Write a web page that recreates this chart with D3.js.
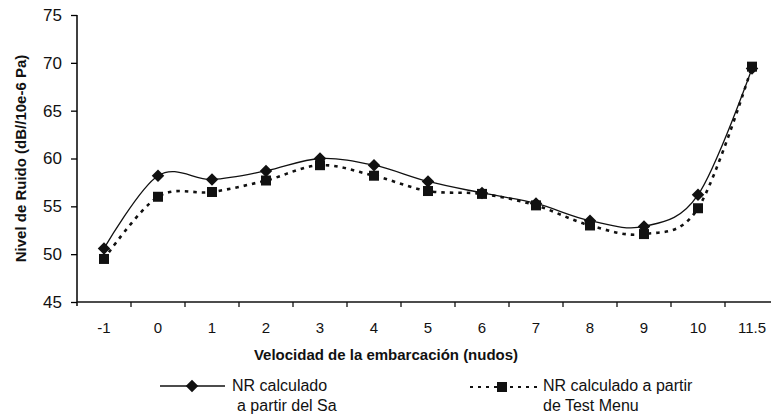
<!DOCTYPE html>
<html>
<head>
<meta charset="utf-8">
<script src="https://cdn.jsdelivr.net/npm/d3@7"></script>
<style>
  body { margin: 0; background: #fff; }
  svg { display: block; font-family: "Liberation Sans", Arial, sans-serif; }
</style>
</head>
<body>
<div id="chart"></div>
<script>
// Speed categories (knots) and the two noise-level series
const speeds = ["-1", "0", "1", "2", "3", "4", "5", "6", "7", "8", "9", "10", "11.5"];
const nrSa = [50.6, 58.2, 57.8, 58.7, 60.0, 59.3, 57.6, 56.4, 55.3, 53.5, 52.9, 56.2, 69.4];
const nrTestMenu = [49.5, 56.0, 56.5, 57.7, 59.3, 58.2, 56.6, 56.3, 55.1, 53.0, 52.1, 54.8, 69.6];
const yTicks = [45, 50, 55, 60, 65, 70, 75];

const width = 771, height = 415;
const margin = { left: 77, top: 15, bottom: 113 };

const svg = d3.select('#chart').append('svg')
  .attr('width', width)
  .attr('height', height);

const x = d3.scaleBand()
  .domain(speeds)
  .range([margin.left, margin.left + 54 * speeds.length]);

const y = d3.scaleLinear()
  .domain([45, 75])
  .range([height - margin.bottom, margin.top]);

const y0 = y(45);

// Y axis
const yAxis = svg.append('g')
  .attr('transform', `translate(${margin.left},0)`)
  .call(d3.axisLeft(y).tickValues(yTicks).tickSize(6).tickPadding(9));
yAxis.select('.domain').attr('stroke-width', 1.5).attr('d', `M0,${y(75)}V${y0 + 4}`);
yAxis.selectAll('line').attr('stroke-width', 1.3);
yAxis.selectAll('text').style('font-size', '17px').attr('fill', '#111');

// X axis: ticks between categories
const xAxis = svg.append('g')
  .attr('transform', `translate(0,${y0})`);
xAxis.append('line')
  .attr('x1', margin.left).attr('x2', width)
  .attr('stroke', '#111').attr('stroke-width', 1.5);
xAxis.selectAll('.tick')
  .data(speeds.slice(1))
  .enter()
  .append('line')
  .attr('x1', d => x(d)).attr('x2', d => x(d))
  .attr('y1', 0).attr('y2', 5)
  .attr('stroke', '#111').attr('stroke-width', 1.3);
xAxis.selectAll('.lbl')
  .data(speeds)
  .enter()
  .append('text')
  .attr('x', d => x(d) + x.bandwidth() / 2)
  .attr('y', 31)
  .attr('text-anchor', 'middle')
  .style('font-size', '15px')
  .attr('fill', '#111')
  .text(d => d);

// Axis titles
svg.append('text')
  .attr('x', 386).attr('y', 360)
  .attr('text-anchor', 'middle')
  .style('font-size', '15px').style('font-weight', 'bold')
  .attr('fill', '#111')
  .text('Velocidad de la embarcación (nudos)');

svg.append('text')
  .attr('transform', `translate(26,${(y(45) + y(75)) / 2}) rotate(-90)`)
  .attr('text-anchor', 'middle')
  .style('font-size', '15px').style('font-weight', 'bold')
  .attr('fill', '#111')
  .text('Nivel de Ruido (dB//10e-6 Pa)');

// Lines
const cx = (d, i) => x(speeds[i]) + x.bandwidth() / 2;
const line = d3.line()
  .x(cx)
  .y(d => y(d))
  .curve(d3.curveCardinal.tension(0));

svg.append('path')
  .datum(nrTestMenu)
  .attr('d', line)
  .attr('fill', 'none')
  .attr('stroke', '#111')
  .attr('stroke-width', 2.6)
  .attr('stroke-dasharray', '3.5,5');

svg.append('path')
  .datum(nrSa)
  .attr('d', line)
  .attr('fill', 'none')
  .attr('stroke', '#111')
  .attr('stroke-width', 1.3);

// Markers
const diamond = d3.symbol().type(d3.symbolDiamond2).size(100);
svg.selectAll('.dia')
  .data(nrSa)
  .enter()
  .append('path')
  .attr('d', diamond)
  .attr('transform', (d, i) => `translate(${cx(d, i)},${y(d)})`)
  .attr('fill', '#111');

const sq = 10;
svg.selectAll('.sq')
  .data(nrTestMenu)
  .enter()
  .append('rect')
  .attr('x', (d, i) => cx(d, i) - sq / 2)
  .attr('y', d => y(d) - sq / 2)
  .attr('width', sq).attr('height', sq)
  .attr('fill', '#111');

// Legend
const leg = svg.append('g');
leg.append('line')
  .attr('x1', 160).attr('x2', 225).attr('y1', 386).attr('y2', 386)
  .attr('stroke', '#111').attr('stroke-width', 1.3);
leg.append('path')
  .attr('d', diamond)
  .attr('transform', 'translate(192,386)')
  .attr('fill', '#111');
leg.append('text').attr('x', 232).attr('y', 391)
  .style('font-size', '16px').attr('fill', '#111').text('NR calculado');
leg.append('text').attr('x', 237).attr('y', 411)
  .style('font-size', '16px').attr('fill', '#111').text('a partir del Sa');

leg.append('line')
  .attr('x1', 470).attr('x2', 538).attr('y1', 387).attr('y2', 387)
  .attr('stroke', '#111').attr('stroke-width', 2)
  .attr('stroke-dasharray', '3,5');
leg.append('rect')
  .attr('x', 502 - sq / 2).attr('y', 387 - sq / 2)
  .attr('width', sq).attr('height', sq)
  .attr('fill', '#111');
leg.append('text').attr('x', 543).attr('y', 391)
  .style('font-size', '16px').attr('fill', '#111').text('NR calculado a partir');
leg.append('text').attr('x', 543).attr('y', 411)
  .style('font-size', '16px').attr('fill', '#111').text('de Test Menu');
</script>
</body>
</html>
